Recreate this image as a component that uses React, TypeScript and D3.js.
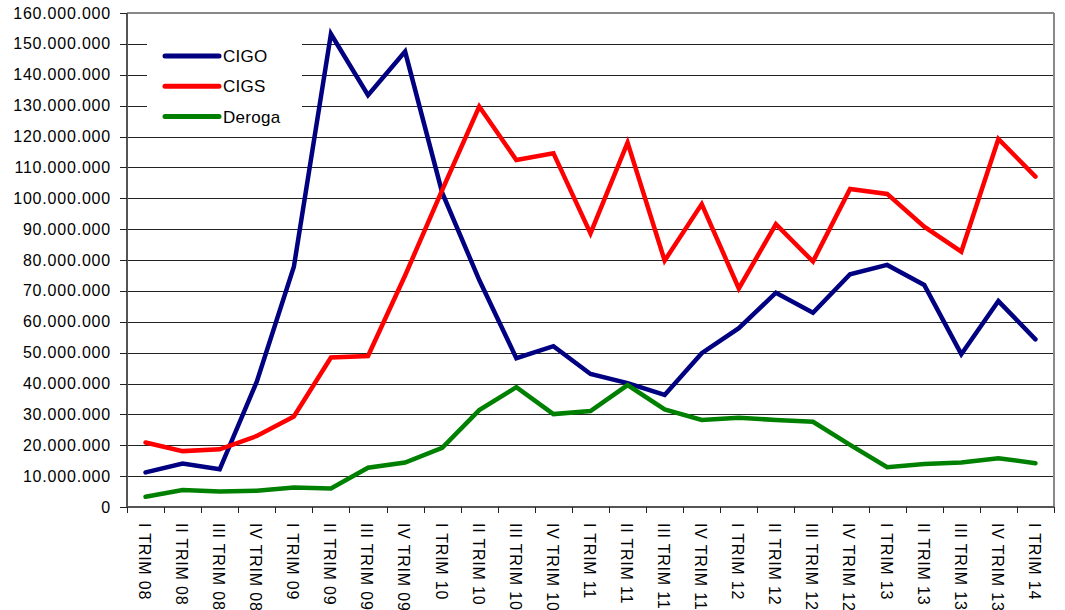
import * as d3 from "d3"

const categories = [
  "I TRIM 08", "II TRIM 08", "III TRIM 08", "IV TRIM 08",
  "I TRIM 09", "II TRIM 09", "III TRIM 09", "IV TRIM 09",
  "I TRIM 10", "II TRIM 10", "III TRIM 10", "IV TRIM 10",
  "I TRIM 11", "II TRIM 11", "III TRIM 11", "IV TRIM 11",
  "I TRIM 12", "II TRIM 12", "III TRIM 12", "IV TRIM 12",
  "I TRIM 13", "II TRIM 13", "III TRIM 13", "IV TRIM 13",
  "I TRIM 14",
]

// values in millions
const cigo = [
  11.2, 14.1, 12.2, 40.6, 77.8, 153.2, 133.4, 147.5, 101.8, 73.5, 48.2, 52.1,
  43.1, 40.1, 36.3, 49.8, 57.9, 69.4, 62.9, 75.4, 78.4, 71.9, 49.5, 66.7, 54.3,
]
const cigs = [
  20.9, 18.1, 18.7, 23.0, 29.3, 48.4, 48.9, 75.0, 102.6, 129.7, 112.4, 114.6,
  88.6, 118.0, 79.8, 98.1, 70.8, 91.6, 79.5, 103.0, 101.4, 90.8, 82.7, 119.2, 107.0,
]
const deroga = [
  3.3, 5.5, 5.0, 5.3, 6.3, 6.0, 12.7, 14.4, 19.2, 31.4, 38.8, 30.1,
  31.1, 39.5, 31.6, 28.2, 28.9, 28.2, 27.6, 20.1, 12.9, 13.9, 14.4, 15.8, 14.2,
]

const seriesNames = ["CIGO", "CIGS", "Deroga"]
const seriesColors = ["#000080", "#ff0000", "#008000"]
const yTicks = d3.range(0, 161, 10)

const W = 1065
const H = 610
const left = 127
const right = 1054
const top = 13
const bottom = 507

const fontFamily = "Arial, 'Liberation Sans', sans-serif"

export default function App() {
  const x = d3.scaleBand<string>().domain(categories).range([left, right]).padding(0)
  const y = d3.scaleLinear().domain([0, 160]).range([bottom, top])
  const cx = (c: string) => (x(c) as number) + x.bandwidth() / 2

  const fmt = d3
    .formatLocale({ decimal: ",", thousands: ".", grouping: [3], currency: ["", ""] })
    .format(",d")

  const line = d3
    .line<number>()
    .x((_, i) => cx(categories[i]))
    .y((d) => y(d))

  const allSeries = [cigo, cigs, deroga]
  const crisp = (v: number) => Math.round(v) + 0.5

  return (
    <div style={{ position: "absolute", left: 0, top: 0 }}>
      <svg width={W} height={H} style={{ display: "block", fontFamily }}>
        <rect x={0} y={0} width={W} height={H} fill="#fff" />

        {/* grid lines */}
        {yTicks.slice(1).map((t) => (
          <line
            key={"g" + t}
            x1={left}
            x2={right}
            y1={crisp(y(t))}
            y2={crisp(y(t))}
            stroke="#222"
            strokeWidth={1}
          />
        ))}

        {/* legend box (covers grid) */}
        <rect x={147} y={34} width={155} height={97} fill="#fff" />

        {/* plot border */}
        <line x1={left} x2={right} y1={top} y2={top} stroke="#888" strokeWidth={2} />
        <line x1={right} x2={right} y1={top} y2={bottom} stroke="#888" strokeWidth={2} />

        {/* y axis */}
        <line x1={left} x2={left} y1={top} y2={bottom} stroke="#555" strokeWidth={2} />
        {yTicks.map((t) => (
          <g key={"y" + t}>
            <line x1={left - 7} x2={left} y1={crisp(y(t))} y2={crisp(y(t))} stroke="#222" />
            <text
              x={111}
              y={y(t)}
              dy="0.35em"
              textAnchor="end"
              fontSize={16}
              letterSpacing={0.8}
              fill="#000"
            >
              {fmt(t * 1e6)}
            </text>
          </g>
        ))}

        {/* x axis */}
        <line x1={left} x2={right} y1={bottom} y2={bottom} stroke="#555" strokeWidth={2} />
        {categories.concat([""]).map((c, i) => {
          const xx = crisp(left + i * x.bandwidth())
          return <line key={"xt" + i} x1={xx} x2={xx} y1={bottom} y2={bottom + 6} stroke="#222" />
        })}
        {categories.map((c) => (
          <text
            key={"xl" + c}
            transform={`translate(${cx(c) - 1},523) rotate(90)`}
            dy="0.35em"
            fontSize={16}
            letterSpacing={0.8}
            fill="#000"
          >
            {c}
          </text>
        ))}

        {/* series */}
        {allSeries.map((s, i) => (
          <path
            key={"s" + i}
            d={line(s) as string}
            fill="none"
            stroke={seriesColors[i]}
            strokeWidth={4.5}
            strokeLinejoin="miter"
            strokeLinecap="round"
          />
        ))}

        {/* legend */}
        {seriesNames.map((n, i) => (
          <g key={"l" + n} transform={`translate(0,${56 + i * 30.3})`}>
            <line x1={165} x2={219} y1={0} y2={0} stroke={seriesColors[i]} strokeWidth={5} strokeLinecap="round" />
            <text x={223} y={0} dy="0.36em" fontSize={17} letterSpacing={0.3} fill="#000">
              {n}
            </text>
          </g>
        ))}
      </svg>
    </div>
  )
}
